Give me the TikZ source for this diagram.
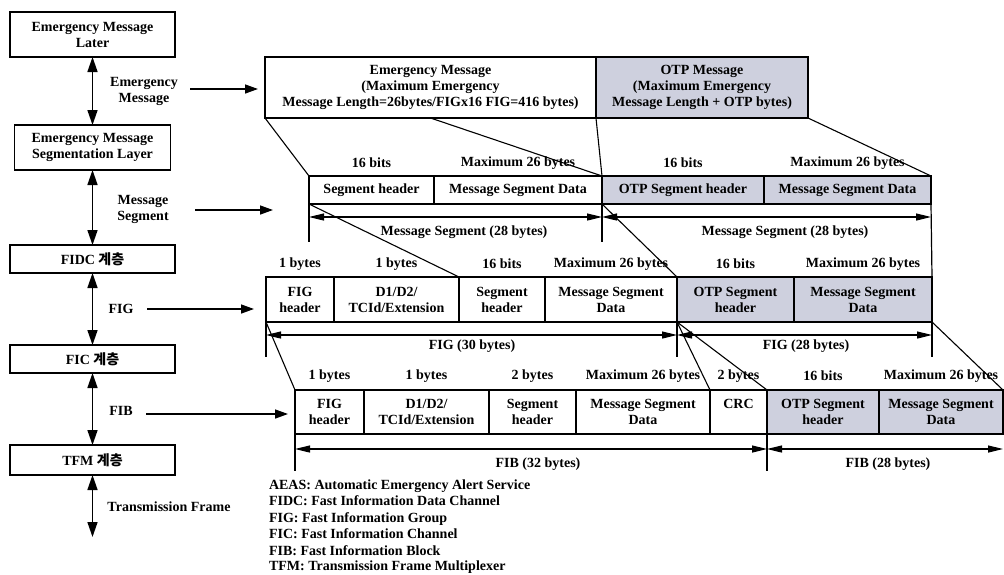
\documentclass[tikz,border=0pt]{standalone}
\usepackage{fontspec}
\setmainfont{Liberation Serif}
\newfontfamily\kr{Noto Sans CJK KR}
\usetikzlibrary{arrows.meta,calc}
\definecolor{otpgray}{RGB}{206,208,222}
\begin{document}
\begin{tikzpicture}[x=1pt,y=-1pt,
  every node/.style={font=\fontsize{14}{16}\selectfont\bfseries, inner sep=0pt, outer sep=0pt},
  lbox/.style={draw, line width=1.4pt, align=center, fill=white},
  cell/.style={draw, line width=1.3pt, anchor=north west, align=center, fill=white},
  gray/.style={fill=otpgray},
  c2/.style={cell, minimum height=28pt},
  c3/.style={cell, minimum height=45pt},
  c4/.style={cell, minimum height=44pt},
  varrow/.style={{Triangle[length=15pt,width=10pt]}-{Triangle[length=15pt,width=10pt]}, line width=1.5pt},
  harrow/.style={-{Triangle[length=13pt,width=9pt]}, line width=1.4pt},
  dim/.style={{Triangle[length=15pt,width=7pt]}-{Triangle[length=15pt,width=7pt]}, line width=1.2pt},
  link/.style={line width=1.1pt},
  tick/.style={line width=1.2pt}
]
\useasboundingbox (0,0) rectangle (1004,574);

% ---------- left column ----------
\node[lbox, minimum width=165pt, minimum height=45pt] (L1) at (92.5,34.5) {Emergency Message\\Later};
\node[lbox, minimum width=156pt, minimum height=45pt] (L2) at (92.5,147.5) {Emergency Message\\Segmentation Layer};
\node[lbox, minimum width=165pt, minimum height=28pt] (L3) at (92.5,259) {FIDC {\kr 계층}};
\node[lbox, minimum width=165pt, minimum height=28pt] (L4) at (92.5,359) {FIC {\kr 계층}};
\node[lbox, minimum width=165pt, minimum height=30pt] (L5) at (92.5,460) {TFM {\kr 계층}};
\coordinate (tfend) at (92.5,537);
\draw[varrow] (L1.south) -- (L2.north);
\draw[varrow] (L2.south) -- (L3.north);
\draw[varrow] (L3.south) -- (L4.north);
\draw[varrow] (L4.south) -- (L5.north);
\draw[varrow] (L5.south) -- (tfend);

\node[align=center] (lab1) at (144,91) {Emergency\\Message};
\node[align=center] (lab2) at (143,209) {Message\\Segment};
\node (lab3) at (121,309) {FIG};
\node (lab4) at (121,411) {FIB};
\node (lab5) at (169,507) {Transmission Frame};

\coordinate (h1s) at (190,89);  \coordinate (h1e) at (258,89);
\coordinate (h2s) at (195,210); \coordinate (h2e) at (273,210);
\coordinate (h3s) at (147,309); \coordinate (h3e) at (254,309);
\coordinate (h4s) at (146,414); \coordinate (h4e) at (288,414);
\draw[harrow] (h1s) -- (h1e);
\draw[harrow] (h2s) -- (h2e);
\draw[harrow] (h3s) -- (h3e);
\draw[harrow] (h4s) -- (h4e);

% ---------- row 1 ----------
\node[cell, minimum width=331pt, minimum height=61pt] (em) at (265,57) {Emergency Message\\(Maximum Emergency\\Message Length=26bytes/FIGx16 FIG=416 bytes)};
\node[cell, gray, minimum width=212pt, minimum height=61pt] (otp) at (596,57) {OTP Message\\(Maximum Emergency\\Message Length + OTP bytes)};

% ---------- row 2 ----------
\node[c2, minimum width=125pt] (r2a) at (309,176) {Segment header};
\node[c2, minimum width=168pt] (r2b) at (434,176) {Message Segment Data};
\node[c2, gray, minimum width=162pt] (r2c) at (602,176) {OTP Segment header};
\node[c2, gray, minimum width=167pt] (r2d) at (764,176) {Message Segment Data};
\node (t2a) at ([yshift=13pt]r2a.north) {16 bits};
\node (t2b) at ([yshift=13pt]r2b.north) {Maximum 26 bytes};
\node (t2c) at ([yshift=13pt]r2c.north) {16 bits};
\node (t2d) at ([yshift=13pt]r2d.north) {Maximum 26 bytes};

% ---------- row 3 ----------
\node[c3, minimum width=68pt] (r3a) at (266,277) {FIG\\header};
\node[c3, minimum width=125pt] (r3b) at (334,277) {D1/D2/\\TCId/Extension};
\node[c3, minimum width=86pt] (r3c) at (459,277) {Segment\\header};
\node[c3, minimum width=132pt] (r3d) at (545,277) {Message Segment\\Data};
\node[c3, gray, minimum width=117pt] (r3e) at (677,277) {OTP Segment\\header};
\node[c3, gray, minimum width=138pt] (r3f) at (794,277) {Message Segment\\Data};
\node (t3a) at ([yshift=13pt]r3a.north) {1 bytes};
\node (t3b) at ([yshift=13pt]r3b.north) {1 bytes};
\node (t3c) at ([yshift=13pt]r3c.north) {16 bits};
\node (t3d) at ([yshift=13pt]r3d.north) {Maximum 26 bytes};
\node (t3e) at ([yshift=13pt]r3e.north) {16 bits};
\node (t3f) at ([yshift=13pt]r3f.north) {Maximum 26 bytes};

% ---------- row 4 ----------
\node[c4, minimum width=69pt] (r4a) at (295,390) {FIG\\header};
\node[c4, minimum width=125pt] (r4b) at (364,390) {D1/D2/\\TCId/Extension};
\node[c4, minimum width=87pt] (r4c) at (489,390) {Segment\\header};
\node[c4, minimum width=134pt] (r4d) at (576,390) {Message Segment\\Data};
\node[c4, minimum width=57pt] (r4e) at (710,390) {CRC\\\mbox{}};
\node[c4, gray, minimum width=112pt] (r4f) at (767,390) {OTP Segment\\header};
\node[c4, gray, minimum width=124pt] (r4g) at (879,390) {Message Segment\\Data};
\node (t4a) at ([yshift=14pt]r4a.north) {1 bytes};
\node (t4b) at ([yshift=14pt]r4b.north) {1 bytes};
\node (t4c) at ([yshift=14pt]r4c.north) {2 bytes};
\node (t4d) at ([yshift=14pt]r4d.north) {Maximum 26 bytes};
\node (t4e) at ([yshift=14pt]r4e.north) {2 bytes};
\node (t4f) at ([yshift=14pt]r4f.north) {16 bits};
\node (t4g) at ([yshift=14pt]r4g.north) {Maximum 26 bytes};

% ---------- mapping lines ----------
\draw[link] (em.south west) -- (r2a.north west);
\draw[link] (em.south) -- (r2b.north east);
\draw[link] (em.south east) -- (r2c.north west);
\draw[link] (otp.south east) -- (r2d.north east);
\draw[link] (r2a.south west) -- (r3c.north west);
\draw[link] (r2b.south east) -- (r3d.north east);
\draw[tick] (r2d.south east) -- (r3f.north east);
\draw[link] (r3a.south west) -- (r4a.north west);
\draw[link] (r3d.south east) -- (r4d.north east);
\draw[link] (r3d.south east) -- (r4e.north east);
\draw[link] (r3f.south east) -- (r4g.north east);

% ---------- dimension lines ----------
\coordinate (k2a) at ($(r2a.south west)+(0,38)$);
\coordinate (k2b) at ($(r2b.south east)+(0,38)$);
\draw[tick] (r2a.south west) -- (k2a);
\draw[tick] (r2b.south east) -- (k2b);
\coordinate (d2a) at ($(r2a.south west)+(0,13)$);
\coordinate (d2b) at ($(r2b.south east)+(0,13)$);
\coordinate (d2c) at ($(r2d.south east)+(0,13)$);
\draw[dim] (d2a) -- (d2b);
\draw[dim] (d2b) -- (d2c);
\node (m2a) at (464,232) {Message Segment (28 bytes)};
\node (m2b) at (785,232) {Message Segment (28 bytes)};

\coordinate (k3a) at ($(r3a.south west)+(0,35)$);
\coordinate (k3b) at ($(r3d.south east)+(0,35)$);
\coordinate (k3c) at ($(r3f.south east)+(0,35)$);
\draw[tick] (r3a.south west) -- (k3a);
\draw[tick] (r3d.south east) -- (k3b);
\draw[tick] (r3f.south east) -- (k3c);
\coordinate (d3a) at ($(r3a.south west)+(0,13)$);
\coordinate (d3b) at ($(r3d.south east)+(0,13)$);
\coordinate (d3c) at ($(r3f.south east)+(0,13)$);
\draw[dim] (d3a) -- (d3b);
\draw[dim] (d3b) -- (d3c);
\node (m3a) at (472,346) {FIG (30 bytes)};
\node (m3b) at (806,346) {FIG (28 bytes)};

\coordinate (k4a) at ($(r4a.south west)+(0,37)$);
\coordinate (k4b) at ($(r4e.south east)+(0,37)$);
\draw[tick] (r4a.south west) -- (k4a);
\draw[tick] (r4e.south east) -- (k4b);
\coordinate (d4a) at ($(r4a.south west)+(0,15)$);
\coordinate (d4b) at ($(r4e.south east)+(0,15)$);
\coordinate (d4c) at ($(r4g.south east)+(0,15)$);
\draw[dim] (d4a) -- (d4b);
\draw[dim] (d4b) -- (d4c);
\node (m4a) at (538,464) {FIB (32 bytes)};
\node (m4b) at (888,464) {FIB (28 bytes)};

% ---------- legend ----------
\node[anchor=base west] (g1) at (269,489) {AEAS: Automatic Emergency Alert Service};
\node[anchor=base west] (g2) at (269,505.5) {FIDC: Fast Information Data Channel};
\node[anchor=base west] (g3) at (269,522) {FIG: Fast Information Group};
\node[anchor=base west] (g4) at (269,538.5) {FIC: Fast Information Channel};
\node[anchor=base west] (g5) at (269,555) {FIB: Fast Information Block};
\node[anchor=base west] (g6) at (269,570.5) {TFM: Transmission Frame Multiplexer};
\end{tikzpicture}
\end{document}
